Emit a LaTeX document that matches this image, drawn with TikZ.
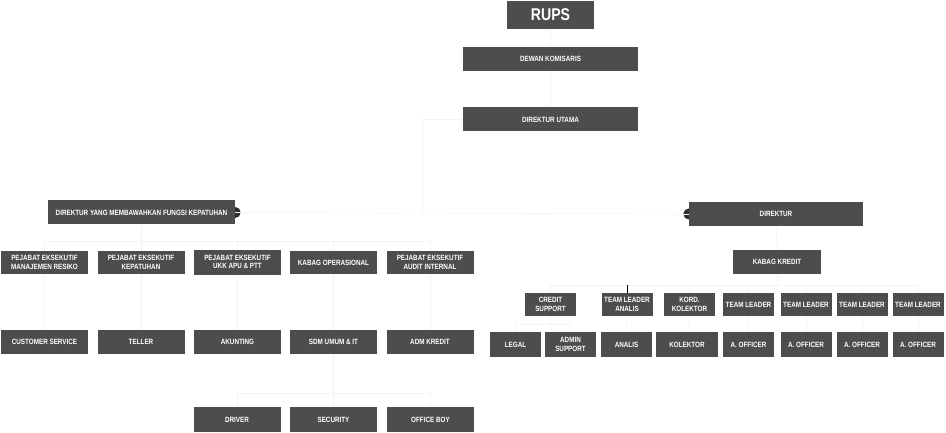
\documentclass[tikz,border=0pt]{standalone}
\usepackage{fontspec}
\usepackage{tikz}
\newfontfamily\jabatanfont[FakeStretch=0.83]{Liberation Sans Bold}
\definecolor{kotakabu}{RGB}{77,77,79}
\definecolor{garisabu}{RGB}{244,244,244}

\tikzset{
  jabatan/.style={fill=kotakabu, text=white, align=center, inner sep=1pt,
    font=\jabatanfont\fontsize{7.6}{8.4}\selectfont, minimum height=24pt},
  lebar/.style={jabatan, minimum width=87pt},
  sempit/.style={jabatan, minimum width=51pt},
  garis/.style={draw=garisabu, line width=0.6pt},
}

\begin{document}
\begin{tikzpicture}[x=1pt, y=-1pt]
  \useasboundingbox (0,0) rectangle (946,433);

  % Nodes

  \node[jabatan, minimum width=87pt, minimum height=28pt,
        font=\jabatanfont\fontsize{17}{18}\selectfont] (rups) at (550.5,15) {RUPS} ; %
  \node[jabatan, minimum width=175pt] (dewan) at (550.5,59)    {DEWAN KOMISARIS} ; %
  \node[jabatan, minimum width=175pt] (du)    at (550.5,119.5) {DIREKTUR UTAMA} ; %

  \node[jabatan, minimum width=187pt] (dyk) at (141.5,212.5) {DIREKTUR YANG MEMBAWAHKAN FUNGSI KEPATUHAN} ; %
  \node[jabatan, minimum width=174pt] (dir) at (776,214)     {DIREKTUR} ; %
  \node[jabatan, minimum width=88pt]  (kabag) at (777,262)   {KABAG KREDIT} ; %

  % left wing
  \node[lebar, minimum height=23pt] (pemr)  at (44.5,262.5)  {PEJABAT EKSEKUTIF\\MANAJEMEN RESIKO} ; %
  \node[lebar, minimum height=23pt] (pekep) at (141,262.5)   {PEJABAT EKSEKUTIF\\KEPATUHAN} ; %
  \node[lebar, minimum height=25pt] (peukk) at (237.5,262)   {PEJABAT EKSEKUTIF\\UKK APU \& PTT} ; %
  \node[lebar, minimum height=23pt] (kbops) at (333.5,262.5) {KABAG OPERASIONAL} ; %
  \node[lebar, minimum height=23pt] (peai)  at (430,262.5)   {PEJABAT EKSEKUTIF\\AUDIT INTERNAL} ; %

  \node[lebar] (cs)    at (44.5,342)  {CUSTOMER SERVICE} ; %
  \node[lebar] (tel)   at (141,342)   {TELLER} ; %
  \node[lebar] (akt)   at (237.5,342) {AKUNTING} ; %
  \node[lebar] (sdm)   at (333.5,342) {SDM UMUM \& IT} ; %
  \node[lebar] (admk)  at (430,342)   {ADM KREDIT} ; %

  \node[lebar, minimum height=25pt] (drv) at (237,419.5)   {DRIVER} ; %
  \node[lebar, minimum height=25pt] (sec) at (333.5,419.5) {SECURITY} ; %
  \node[lebar, minimum height=25pt] (ob)  at (430.5,419.5) {OFFICE BOY} ; %

  % right wing
  \node[sempit, minimum height=23pt] (crs)  at (550.5,304.5) {CREDIT\\SUPPORT} ; %
  \node[sempit, minimum height=23pt] (tla)  at (627,304.5)   {TEAM LEADER\\ANALIS} ; %
  \node[sempit, minimum height=23pt] (kord) at (689.5,304.5) {KORD.\\KOLEKTOR} ; %
  \node[sempit, minimum height=23pt] (tla1) at (748.5,304.5) {TEAM LEADER} ; %
  \node[sempit, minimum height=23pt] (tla2) at (806,304.5)   {TEAM LEADER} ; %
  \node[sempit, minimum height=23pt] (tla3) at (862,304.5)   {TEAM LEADER} ; %
  \node[sempit, minimum height=23pt] (tla4) at (918,304.5)   {TEAM LEADER} ; %

  \node[sempit, minimum height=25pt] (legal) at (515.5,344.5) {LEGAL} ; %
  \node[sempit, minimum height=25pt] (adms)  at (570.5,344.5) {ADMIN\\SUPPORT} ; %
  \node[sempit, minimum height=25pt] (anl)   at (626.5,344.5) {ANALIS} ; %
  \node[sempit, minimum height=25pt, minimum width=62pt] (kol) at (687,344.5) {KOLEKTOR} ; %
  \node[sempit, minimum height=25pt] (ao1) at (748.5,344.5) {A. OFFICER} ; %
  \node[sempit, minimum height=25pt] (ao2) at (806,344.5)   {A. OFFICER} ; %
  \node[sempit, minimum height=25pt] (ao3) at (862,344.5)   {A. OFFICER} ; %
  \node[sempit, minimum height=25pt] (ao4) at (918,344.5)   {A. OFFICER} ; %

  % Edges
  \begin{scope}[garis]
  \draw (rups) -- (dewan); \draw (dewan) -- (du);
  \draw (du.west) -| ++(-41,93);
  \draw (dyk.east) -- (dir.west);
  \draw (dir) -- (kabag);
  \foreach \n in {pemr,pekep,peukk,kbops,peai}
    \draw (dyk.south) -- ++(0,17) -| (\n.north);
  \draw (pemr) -- (cs); \draw (pekep) -- (tel);
  \draw (peukk) -- (akt); \draw (kbops) -- (sdm);
  \draw (peai) -- (admk);
  \foreach \n in {drv,sec,ob}
    \draw (sdm.south) -- ++(0,39) -| (\n.north);
  \foreach \n in {crs,tla,kord,tla1,tla2,tla3,tla4}
    \draw (kabag.south) -- ++(0,11) -| (\n.north);
  \foreach \n in {legal,adms}
    \draw (crs.south) -- ++(0,8) -| (\n.north);
  \draw (tla) -- (anl); \draw (kord) -- (kol);
  \draw (tla1) -- (ao1); \draw (tla2) -- (ao2);
  \draw (tla3) -- (ao3); \draw (tla4) -- (ao4);
  \end{scope}

  % ends
  \fill[kotakabu!60!black] (dyk.east) ++(0,-5.5) arc[start angle=90, end angle=-90, radius=5.5pt] -- cycle;
  \fill[kotakabu!60!black] (dir.west) ++(0,-5.5) arc[start angle=90, end angle=270, radius=5.5pt] -- cycle;
  \draw[garis] (dyk.east) -- ++(6,0); \draw[garis] (dir.west) -- ++(-6,0);
  \draw[line width=0.6pt] (tla.north) -- ++(0,-8);
\end{tikzpicture}
\end{document}
